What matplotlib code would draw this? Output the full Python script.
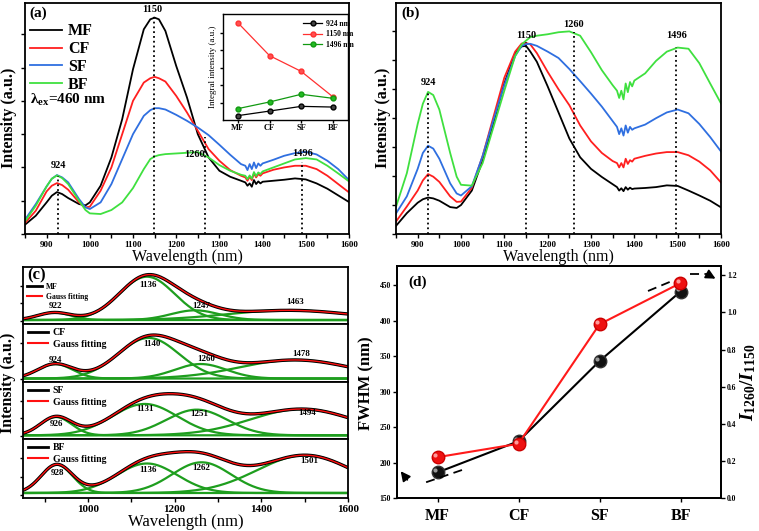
import numpy as np
import matplotlib
matplotlib.use('Agg')
import matplotlib.pyplot as plt
import matplotlib.patches as mpatches
import matplotlib.transforms as mtrans
from matplotlib.lines import Line2D
from matplotlib.ticker import MultipleLocator

plt.rcParams['font.family'] = ['Liberation Serif', 'DejaVu Serif']
plt.rcParams['font.weight'] = 'bold'
plt.rcParams['mathtext.fontset'] = 'custom'
plt.rcParams['mathtext.rm'] = 'Liberation Serif:bold'
plt.rcParams['mathtext.it'] = 'Liberation Serif:italic:bold'
plt.rcParams['mathtext.bf'] = 'Liberation Serif:bold'
plt.rcParams['axes.linewidth'] = 1.3
plt.rcParams['xtick.major.width'] = 1.0
plt.rcParams['ytick.major.width'] = 1.0
plt.rcParams['xtick.minor.width'] = 1.0
plt.rcParams['xtick.major.size'] = 3
plt.rcParams['xtick.minor.size'] = 3
plt.rcParams['ytick.major.size'] = 3

# ---------------- data ----------------
samples = ['MF', 'CF', 'SF', 'BF']

wl = [850, 875, 900, 912, 924, 936, 950, 975, 990, 1000, 1025, 1050, 1075, 1100,
      1125, 1140, 1150, 1160, 1175, 1200, 1225, 1250, 1275, 1300, 1325, 1350,
      1360, 1365, 1370, 1375, 1380, 1385, 1390, 1395, 1400, 1425, 1450, 1475,
      1500, 1525, 1550, 1575, 1600]

# panel (a): raw emission spectra
a_mf = [0.28, 0.55, 0.95, 1.15, 1.26, 1.20, 1.08, 0.90, 0.86, 0.95, 1.45, 2.30, 3.45, 4.95,
        6.15, 6.45, 6.50, 6.45, 6.10, 5.05, 4.10, 3.00, 2.30, 1.90, 1.72, 1.60,
        1.55, 1.45, 1.52, 1.42, 1.62, 1.50, 1.58, 1.52, 1.57, 1.60, 1.63, 1.67,
        1.64, 1.52, 1.36, 1.16, 0.96]
a_cf = [0.33, 0.70, 1.28, 1.45, 1.53, 1.47, 1.33, 0.95, 0.80, 0.82, 1.30, 2.00, 3.00, 4.00,
        4.55, 4.68, 4.72, 4.68, 4.58, 4.15, 3.65, 3.10, 2.55, 2.20, 1.92, 1.75,
        1.70, 1.60, 1.72, 1.62, 1.82, 1.70, 1.80, 1.75, 1.82, 1.93, 2.00, 2.05,
        2.05, 1.95, 1.75, 1.50, 1.25]
a_sf = [0.43, 0.90, 1.43, 1.66, 1.77, 1.70, 1.55, 1.05, 0.80, 0.75, 0.95, 1.50, 2.25, 3.00,
        3.55, 3.72, 3.78, 3.78, 3.74, 3.58, 3.40, 3.20, 2.97, 2.68, 2.38, 2.10,
        2.05, 1.92, 2.10, 1.95, 2.15, 1.98, 2.12, 2.05, 2.12, 2.23, 2.35, 2.43,
        2.47, 2.39, 2.20, 1.95, 1.62]
a_bf = [0.38, 0.85, 1.43, 1.66, 1.76, 1.68, 1.50, 1.00, 0.72, 0.62, 0.60, 0.72, 0.95, 1.38,
        1.95, 2.25, 2.33, 2.37, 2.40, 2.42, 2.44, 2.46, 2.30, 2.07, 1.90, 1.78,
        1.75, 1.65, 1.76, 1.66, 1.86, 1.74, 1.85, 1.80, 1.88, 2.00, 2.12, 2.24,
        2.28, 2.24, 2.05, 1.82, 1.58]

# panel (b): spectra normalised at 1150 nm
b_mf = [0.28, 0.72, 1.08, 1.20, 1.26, 1.23, 1.15, 0.93, 0.90, 1.00, 1.50, 2.55, 3.85, 5.20,
        6.25, 6.48, 6.50, 6.30, 5.95, 5.10, 4.20, 3.30, 2.65, 2.25, 1.97, 1.72,
        1.62, 1.50, 1.58, 1.48, 1.62, 1.53, 1.60, 1.55, 1.57, 1.59, 1.62, 1.68,
        1.66, 1.50, 1.33, 1.15, 0.92]
b_cf = [0.43, 0.95, 1.50, 1.85, 2.07, 1.98, 1.80, 1.30, 1.11, 1.12, 1.60, 2.70, 4.05, 5.40,
        6.30, 6.58, 6.60, 6.55, 6.25, 5.60, 5.00, 4.45, 3.75, 3.20, 2.80, 2.52,
        2.45, 2.30, 2.45, 2.30, 2.60, 2.42, 2.55, 2.50, 2.60, 2.70, 2.78, 2.83,
        2.83, 2.72, 2.50, 2.20, 1.78]
b_sf = [0.71, 1.30, 2.25, 2.80, 3.05, 2.95, 2.60, 1.75, 1.40, 1.33, 1.65, 2.70, 3.95, 5.15,
        6.15, 6.50, 6.56, 6.57, 6.50, 6.30, 6.08, 5.70, 5.28, 4.85, 4.40, 3.90,
        3.70, 3.45, 3.65, 3.40, 3.75, 3.50, 3.70, 3.60, 3.65, 3.78, 4.00, 4.20,
        4.30, 4.17, 3.80, 3.35, 2.85]
b_bf = [0.94, 2.10, 3.80, 4.50, 4.91, 4.80, 4.30, 2.80, 1.98, 1.70, 1.67, 2.45, 3.70, 4.95,
        6.15, 6.55, 6.68, 6.80, 6.85, 6.90, 6.97, 7.00, 6.85, 6.28, 5.66, 5.14,
        4.95, 4.70, 4.95, 4.65, 5.20, 4.90, 5.25, 5.10, 5.30, 5.55, 5.98, 6.30,
        6.44, 6.40, 5.90, 5.20, 4.51]

# inset of (a): integral intensities
int_924 = [0.25, 0.51, 0.78, 0.74]
int_1150 = [5.56, 3.68, 2.78, 1.33]
int_1496 = [0.65, 1.03, 1.47, 1.24]

# peak markers
peaks_a = [927, 1148, 1267, 1492]
peaks_a_top = [1.73, 6.58, 2.90, 2.15]
peaks_a_lab = ['924', '1150', '1260', '1496']
peaks_a_laby = [2.06, 6.73, 2.38, 2.43]
peaks_a_labx = [927, 1145, 1242, 1492]
peaks_b = [924, 1150, 1260, 1497]
peaks_b_top = [4.90, 6.63, 6.98, 6.46]
peaks_b_laby = [5.25, 6.85, 7.25, 6.85]

# panel (c): Gaussian decomposition (center, amplitude, FWHM) + offset
gauss_centers = [[922, 1136, 1247, 1463], [924, 1140, 1260, 1478],
                 [926, 1131, 1251, 1494], [928, 1136, 1262, 1501]]
gauss_amps = [[0.13, 0.76, 0.17, 0.17], [0.25, 0.70, 0.25, 0.32],
              [0.32, 0.55, 0.45, 0.46], [0.48, 0.50, 0.52, 0.64]]
gauss_fwhm = [[90, 150, 130, 330], [95, 165, 140, 300],
              [85, 177, 165, 280], [85, 165, 160, 260]]
gauss_offset = [0.07, 0.06, 0.065, 0.085]
c_lab_x = [[924, 1139, 1261, 1477], [924, 1147, 1272, 1492],
           [927, 1132, 1257, 1505], [930, 1138, 1262, 1510]]
c_lab_y = [[0.31, 0.69, 0.31, 0.39], [0.375, 0.65, 0.39, 0.49],
           [0.26, 0.52, 0.44, 0.46], [0.42, 0.47, 0.51, 0.63]]

# panel (d)
fwhm_nm = [186, 230, 343, 441]
ratio = [0.22, 0.292, 0.936, 1.158]

# ---------------- figure ----------------
W, H = 759, 531
fig = plt.figure(figsize=(W / 100, H / 100), dpi=100)


def box(l, t, r, b):
    return [l / W, 1 - b / H, (r - l) / W, (b - t) / H]


def fp(x, y):
    return (x / W, 1 - y / H)


col = {'MF': 'black', 'CF': '#ff1f1f', 'SF': '#2f6fe0', 'BF': '#3fe03f'}
tick_fs = 6.5
lab_fs = 11.5


def spectra_axes(rect, curves, ymax, yticks):
    ax = fig.add_axes(rect)
    for name, vals in zip(samples, curves):
        ax.plot(wl, vals, color=col[name], lw=1.3, label=name)
    ax.set_xlim(850, 1600)
    ax.set_ylim(0, ymax)
    ax.set_xticks(range(900, 1601, 100))
    ax.xaxis.set_minor_locator(MultipleLocator(50))
    ax.set_yticks(yticks)
    ax.set_yticklabels([])
    ax.tick_params(axis='x', labelsize=tick_fs, pad=2)
    ax.set_xlabel('Wavelength (nm)', fontsize=lab_fs, labelpad=0)
    return ax


# (a)
ax_a = spectra_axes(box(25, 3, 349, 234), [a_mf, a_cf, a_sf, a_bf], 6.94, range(0, 7))
ax_a.vlines(peaks_a, 0, peaks_a_top, colors='k', linestyles=':', lw=1.3)
for x, y, s in zip(peaks_a_labx, peaks_a_laby, peaks_a_lab):
    ax_a.text(x, y, s, ha='center', va='center', fontsize=7.5)
ax_a.legend(loc='upper left', bbox_to_anchor=(-0.005, 0.94), frameon=False, fontsize=11.5,
            handlelength=2.0, labelspacing=0.12, handletextpad=0.4, borderaxespad=0)
ax_a.text(0.015, 0.58, 'λ$_{\\mathrm{ex}}$=460 nm', transform=ax_a.transAxes,
          fontsize=11, va='center')
ax_a.text(0.015, 0.955, '(a)', transform=ax_a.transAxes, fontsize=11, va='center')
fig.text(9 / W, 1 - 118 / H, 'Intensity (a.u.)', rotation=90, ha='center', va='center',
         fontsize=lab_fs)

# inset
ax_in = fig.add_axes(box(223, 14, 348, 120))
ax_in.plot(range(1, 5), int_924, color='black', marker='o', ms=3.5, lw=0.9,
           mfc='#444444', label='924 nm')
ax_in.plot(range(1, 5), int_1150, color='#ff3030', marker='o', ms=3.5, lw=0.9,
           mfc='#ff5050', label='1150 nm')
ax_in.plot(range(1, 5), int_1496, color='#119911', marker='o', ms=3.5, lw=0.9,
           mfc='#22bb22', label='1496 nm')
ax_in.set_xlim(0.53, 4.48)
ax_in.set_ylim(0, 6.06)
ax_in.set_xticks(range(1, 5))
ax_in.set_xticklabels(samples, fontsize=6)
ax_in.set_yticks(range(1, 6))
ax_in.set_yticklabels([])
ax_in.tick_params(length=2, pad=1)
ax_in.set_ylabel('Integral intensity (a.u.)', fontsize=6.5, labelpad=1)
for sp in ax_in.spines.values():
    sp.set_linewidth(1.0)
ax_in.legend(loc='upper right', bbox_to_anchor=(1.08, 0.99), frameon=False, fontsize=5.5,
             handlelength=2.5, labelspacing=0.35, handletextpad=0.4, borderaxespad=0.2)

# (b)
ax_b = spectra_axes(box(396, 3, 721, 234), [b_mf, b_cf, b_sf, b_bf], 7.98, range(0, 8))
ax_b.vlines(peaks_b, 0, peaks_b_top, colors='k', linestyles=':', lw=1.3)
for x, y, s in zip(peaks_b, peaks_b_laby, peaks_a_lab):
    ax_b.text(x, y, s, ha='center', va='center', fontsize=7.5)
ax_b.text(0.015, 0.955, '(b)', transform=ax_b.transAxes, fontsize=11, va='center')
fig.text(383 / W, 1 - 118 / H, 'Intensity (a.u.)', rotation=90, ha='center', va='center',
         fontsize=lab_fs)

# (c)
xs = np.linspace(850, 1600, 400)
tops = [267, 324, 382, 439]
bots = [324, 382, 439, 498]
green = '#1e9e1e'
for i, name in enumerate(samples):
    ax = fig.add_axes(box(23, tops[i], 348, bots[i]))
    total = np.full_like(xs, gauss_offset[i])
    comps = []
    for c, a, fw in zip(gauss_centers[i], gauss_amps[i], gauss_fwhm[i]):
        sig = fw / 2.3548
        g = a * np.exp(-0.5 * ((xs - c) / sig) ** 2)
        comps.append(g + gauss_offset[i])
        total = total + g
    for g in comps:
        ax.plot(xs, g, color=green, lw=1.6)
    ax.plot(xs, total, color='black', lw=2.4)
    ax.plot(xs, total, color='#ff1010', lw=1.0)
    for x, y, c in zip(c_lab_x[i], c_lab_y[i], gauss_centers[i]):
        ax.text(x, y, str(c), ha='center', va='center', fontsize=6.5)
    ax.set_xlim(850, 1600)
    ax.set_ylim(0, 1)
    ax.set_yticks([0.05, 0.36, 0.67])
    ax.set_yticklabels([])
    ax.set_xticks(range(1000, 1601, 200))
    ax.xaxis.set_minor_locator(MultipleLocator(100))
    ax.tick_params(axis='y', length=2.5)
    fs = 5.5 if i == 0 else 7
    handles = [Line2D([], [], color='black', lw=2), Line2D([], [], color='#ff1010', lw=1.5)]
    ax.legend(handles, [name, 'Gauss fitting'], loc='upper left', frameon=False, fontsize=fs,
              handlelength=2.0, labelspacing=0.25, handletextpad=0.5,
              borderaxespad=0.15, bbox_to_anchor=(0.0, 0.80 if i == 0 else 1.02))
    if i < 3:
        ax.tick_params(axis='x', labelbottom=False, length=0)
    else:
        ax.tick_params(axis='x', labelsize=8, pad=2)
        ax.set_xlabel('Wavelength (nm)', fontsize=lab_fs + 0.5, labelpad=0)
    if i == 0:
        ax.text(0.012, 0.86, '(c)', transform=ax.transAxes, fontsize=12, va='center')
fig.text(8 / W, 1 - 383 / H, 'Intensity (a.u.)', rotation=90, ha='center', va='center',
         fontsize=lab_fs)

# (d)
ax_d = fig.add_axes(box(397, 266, 721, 498))
xpos = range(1, 5)
shine = mtrans.ScaledTranslation(-1.6 / 72, 1.6 / 72, fig.dpi_scale_trans)
ax_d.plot(xpos, fwhm_nm, color='black', lw=1.5, marker='o', ms=9, mfc='#111111',
          mec='#333333', zorder=3)
ax_d.plot(xpos, fwhm_nm, ls='none', marker='o', ms=3, mfc='#9a9a9a', mec='none',
          zorder=4, transform=ax_d.transData + shine)
ax_d.set_xlim(0.5, 4.5)
ax_d.set_ylim(150, 477)
ax_d.set_yticks(range(150, 451, 50))
ax_d.set_xticks(xpos)
ax_d.set_xticklabels(samples, fontsize=11.5)
ax_d.tick_params(axis='y', labelsize=5.5, pad=1.5, length=3)
ax_d.tick_params(axis='x', pad=4, length=3)
ax_r = ax_d.twinx()
ax_r.plot(xpos, ratio, color='#ff1a1a', lw=1.5, marker='o', ms=9, mfc='#ee1111',
          mec='#cc0000', zorder=3)
ax_r.plot(xpos, ratio, ls='none', marker='o', ms=3, mfc='#ff9a9a', mec='none',
          zorder=4, transform=ax_r.transData + shine)
ax_r.set_ylim(0, 1.25)
ax_r.set_yticks(np.arange(0, 1.21, 0.2))
ax_r.set_yticklabels([f'{v:.1f}' for v in np.arange(0, 1.21, 0.2)])
ax_r.tick_params(axis='y', labelsize=5.5, pad=1.5, length=3)
for axx in (ax_d, ax_r):
    for sp in axx.spines.values():
        sp.set_linewidth(1.3)
ax_d.text(0.035, 0.93, '(d)', transform=ax_d.transAxes, fontsize=11, va='center')
fig.text(366 / W, 1 - 383 / H, 'FWHM (nm)', rotation=90, ha='center', va='center',
         fontsize=12)
fig.text(748 / W, 1 - 382 / H, '$I_{1260}/I_{1150}$', rotation=90, ha='center',
         va='center', fontsize=14)

# guide arrows in (d)
for p0, p1 in [((462, 470), (421, 484)), ((648, 291), (672, 281)), ((690, 274), (708, 274))]:
    fig.add_artist(Line2D([fp(*p0)[0], fp(*p1)[0]], [fp(*p0)[1], fp(*p1)[1]],
                          transform=fig.transFigure, color='black', lw=1.3, ls=(0, (5, 3))))
fig.add_artist(mpatches.FancyArrowPatch(fp(409, 482), fp(399, 469),
               transform=fig.transFigure, arrowstyle='-|>', mutation_scale=14,
               color='black', lw=1.3))
fig.add_artist(mpatches.FancyArrowPatch(fp(707, 274), fp(718, 280),
               transform=fig.transFigure, arrowstyle='-|>', mutation_scale=14,
               color='black', lw=1.3))

fig.savefig('out.png', dpi=100)
